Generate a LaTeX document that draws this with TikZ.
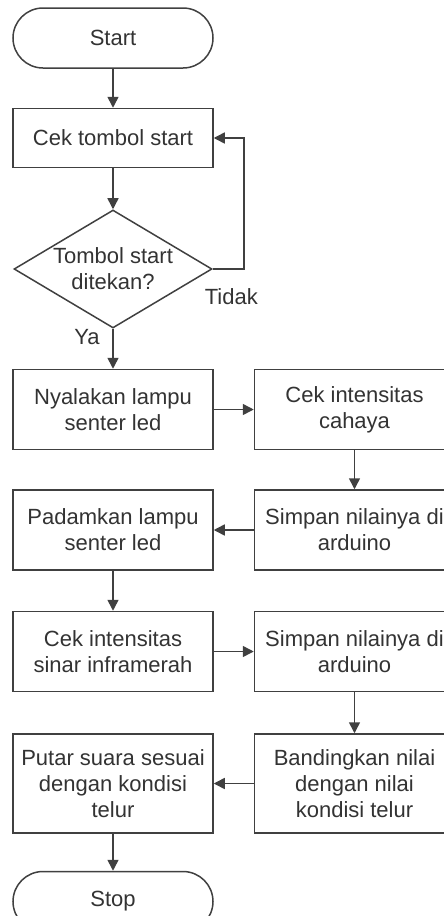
\documentclass[tikz,border=0pt]{standalone}
\usepackage{fontspec}
\setmainfont{Liberation Sans}
\usetikzlibrary{positioning}
\usetikzlibrary{shapes.geometric}
\usetikzlibrary{arrows.meta}

\begin{document}
\begin{tikzpicture}[
  font=\fontsize{11}{13}\selectfont,
  line width=0.75pt,
  box/.style={draw=black!75, fill=white, text=black!80, align=center, minimum width=100pt, minimum height=40pt, inner sep=2pt},
  term/.style={box, rounded corners=15pt, minimum height=30pt},
  decision/.style={draw=black!75, fill=white, text=black!80, diamond, aspect=1.68, align=center, inner sep=0pt, minimum width=99pt, minimum height=59pt},
  arrow/.style={draw=black!75, -{Triangle[width=5.5pt, length=5.5pt]}},
  answer/.style={text=black!80}
]

\useasboundingbox (-56.5pt,19pt) rectangle (165.5pt,-439pt);

\node[term] (start) {Start};
\node[box, minimum height=29.5pt, below=19.5pt of start] (cektombol) {Cek tombol start};
\node[decision, below=20.5pt of cektombol] (tekan) {Tombol start\\ditekan?};

\node[box, below=20pt of tekan] (nyala) {Nyalakan lampu\\senter led};
\node[box, right=20pt of nyala] (cahaya) {Cek intensitas\\cahaya};
\node[box, below=19.5pt of cahaya] (simpan1) {Simpan nilainya di\\arduino};
\node[box, left=20pt of simpan1] (padam) {Padamkan lampu\\senter led};
\node[box, below=20pt of padam] (infra) {Cek intensitas\\sinar inframerah};
\node[box, right=20pt of infra] (simpan2) {Simpan nilainya di\\arduino};
\node[box, minimum height=49.5pt, below=20.5pt of simpan2] (banding) {Bandingkan nilai\\dengan nilai\\kondisi telur};
\node[box, minimum height=49.5pt, left=20pt of banding] (putar) {Putar suara sesuai\\dengan kondisi\\telur};
\node[term, below=18.5pt of putar] (stop) {Stop};

\draw[arrow] (start) -- (cektombol);
\draw[arrow] (cektombol) -- (tekan);
\draw[arrow] (tekan.east) -- node[answer, below=6pt, pos=0.6]{Tidak} ++(15.5pt,0) |- (cektombol.east);
\draw[arrow] (tekan) -- node[answer, left=3pt, pos=0.2]{Ya} (nyala);
\draw[arrow] (nyala) -- (cahaya);
\draw[arrow] (cahaya) -- (simpan1);
\draw[arrow] (simpan1) -- (padam);
\draw[arrow] (padam) -- (infra);
\draw[arrow] (infra) -- (simpan2);
\draw[arrow] (simpan2) -- (banding);
\draw[arrow] (banding) -- (putar);
\draw[arrow] (putar) -- (stop);

\end{tikzpicture}
\end{document}
